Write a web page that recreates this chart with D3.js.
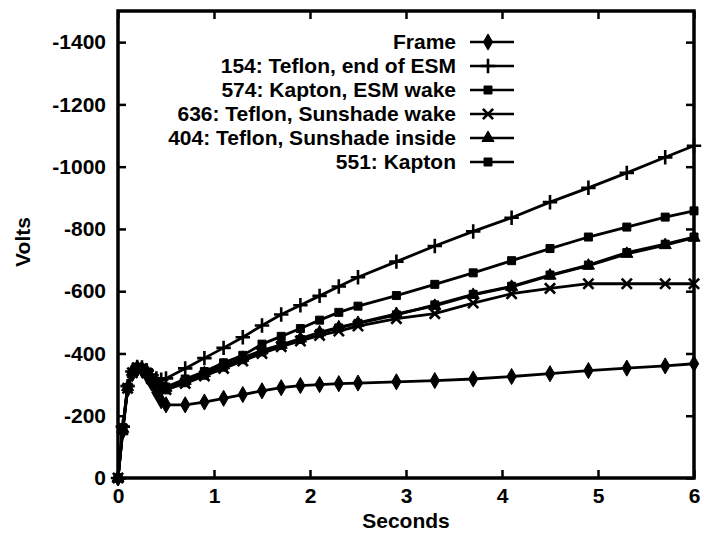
<!DOCTYPE html>
<html>
<head>
<meta charset="utf-8">
<script src="https://cdn.jsdelivr.net/npm/d3@7"></script>
<style>
  html, body { margin: 0; padding: 0; background: #fff; }
  svg { display: block; font-family: "Liberation Sans", Arial, Helvetica, sans-serif; }
</style>
</head>
<body>
<svg id="chart"></svg>
<script>
/* Data Setup */
const seconds = [0, 0.05, 0.1, 0.15, 0.2, 0.25, 0.3, 0.35, 0.4, 0.45, 0.5, 0.7, 0.9, 1.1, 1.3, 1.5, 1.7, 1.9, 2.1, 2.3, 2.5, 2.9, 3.3, 3.7, 4.1, 4.5, 4.9, 5.3, 5.7, 6.0];

const frame = [0, -150, -285, -335, -350, -348, -330, -305, -275, -248, -235, -235, -244, -256, -268, -280, -290, -297, -300, -303, -305, -309, -313, -318, -326, -335, -345, -353, -360, -367];
const teflonEsmEnd = [0, -165, -295, -342, -357, -355, -345, -330, -320, -316, -320, -352, -385, -418, -452, -490, -525, -555, -585, -615, -645, -695, -745, -792, -836, -886, -932, -980, -1030, -1067];
const kaptonEsmWake = [0, -160, -290, -340, -356, -353, -340, -322, -306, -296, -292, -318, -342, -370, -394, -430, -455, -480, -507, -532, -552, -586, -622, -659, -698, -737, -774, -806, -838, -858];
const teflonSunshadeWake = [0, -155, -288, -338, -354, -351, -337, -318, -300, -290, -284, -304, -328, -352, -376, -400, -422, -440, -458, -472, -488, -512, -528, -562, -592, -609, -624, -624, -624, -624];
const teflonSunshadeInside = [0, -158, -292, -341, -356, -352, -339, -320, -303, -293, -290, -312, -337, -362, -386, -410, -428, -448, -468, -484, -498, -527, -553, -588, -614, -650, -682, -720, -748, -772];
const kapton551 = [0, -162, -290, -339, -355, -351, -336, -316, -298, -287, -283, -306, -330, -356, -380, -405, -426, -445, -465, -482, -497, -524, -556, -590, -616, -652, -684, -724, -751, -774];

const seriesNames = ["Frame", "154: Teflon, end of ESM", "574: Kapton, ESM wake", "636: Teflon, Sunshade wake", "404: Teflon, Sunshade inside", "551: Kapton"];
const seriesValues = [frame, teflonEsmEnd, kaptonEsmWake, teflonSunshadeWake, teflonSunshadeInside, kapton551];
const markerKinds = ["diamond", "plus", "square", "cross", "triangle", "square"];

const xTicks = [0, 1, 2, 3, 4, 5, 6];
const yTicks = [0, -200, -400, -600, -800, -1000, -1200, -1400];

/* Chart dimensions */
const W = 704, H = 539;
const plot = { left: 118, right: 694, top: 11, bottom: 478 };

const svg = d3.select("#chart")
    .attr("width", W)
    .attr("height", H);

/* Scales */
const x = d3.scaleLinear().domain([0, 6]).range([plot.left, plot.right]);
const y = d3.scaleLinear().domain([0, -1500]).range([plot.bottom, plot.top]);

/* Marker shapes */
const symbolFor = {
    diamond: d3.symbol().type(d3.symbolDiamond).size(75),
    square: d3.symbol().type(d3.symbolSquare).size(64),
    triangle: d3.symbol().type(d3.symbolTriangle).size(64),
    plus: d3.symbol().type(d3.symbolPlus).size(70),
    cross: d3.symbol().type(d3.symbolX).size(70)
};
function drawMarker(g, kind, cx, cy) {
    const stroked = kind === "plus" || kind === "cross";
    g.append("path")
        .attr("d", symbolFor[kind]())
        .attr("transform", `translate(${cx},${cy})`)
        .attr("fill", stroked ? "none" : "#000")
        .attr("stroke", "#000")
        .attr("stroke-width", stroked ? 2.6 : 1);
}

/* Lines */
const line = d3.line()
    .x(d => x(d[0]))
    .y(d => y(d[1]));

const seriesG = svg.append("g");
seriesValues.forEach((vals, i) => {
    const pts = seconds.map((t, k) => [t, vals[k]]);
    seriesG.append("path")
        .datum(pts)
        .attr("d", line)
        .attr("fill", "none")
        .attr("stroke", "#000")
        .attr("stroke-width", 2.8);
    const mg = seriesG.append("g");
    pts.forEach(p => drawMarker(mg, markerKinds[i], x(p[0]), y(p[1])));
});

/* Axes: ticks pointing inward on all four sides */
const tickLen = 8;
svg.append("g")
    .attr("transform", `translate(0,${plot.bottom})`)
    .call(d3.axisBottom(x).tickValues(xTicks).tickSize(-tickLen).tickPadding(10).tickFormat(d3.format("d")))
    .call(g => g.select(".domain").remove());
svg.append("g")
    .attr("transform", `translate(0,${plot.top})`)
    .call(d3.axisTop(x).tickValues(xTicks).tickSize(-tickLen).tickFormat(""))
    .call(g => g.select(".domain").remove());
svg.append("g")
    .attr("transform", `translate(${plot.left},0)`)
    .call(d3.axisLeft(y).tickValues(yTicks).tickSize(-tickLen).tickPadding(12).tickFormat(d => String(d)))
    .call(g => g.select(".domain").remove());
svg.append("g")
    .attr("transform", `translate(${plot.right},0)`)
    .call(d3.axisRight(y).tickValues(yTicks).tickSize(-tickLen).tickFormat(""))
    .call(g => g.select(".domain").remove());

svg.selectAll(".tick line").attr("stroke", "#000").attr("stroke-width", 2.5);
svg.selectAll(".tick text")
    .attr("fill", "#000")
    .style("font-size", "21px")
    .style("font-weight", "bold");

/* Plot frame */
svg.append("rect")
    .attr("x", plot.left)
    .attr("y", plot.top)
    .attr("width", plot.right - plot.left)
    .attr("height", plot.bottom - plot.top)
    .attr("fill", "none")
    .attr("stroke", "#000")
    .attr("stroke-width", 3.5);

/* Axis titles */
svg.append("text")
    .attr("x", (plot.left + plot.right) / 2)
    .attr("y", 528)
    .attr("text-anchor", "middle")
    .style("font-size", "21px")
    .style("font-weight", "bold")
    .text("Seconds");

svg.append("text")
    .attr("transform", "translate(30,242) rotate(-90)")
    .attr("text-anchor", "middle")
    .style("font-size", "21px")
    .style("font-weight", "bold")
    .text("Volts");

/* Legend */
const legend = svg.append("g");
seriesNames.forEach((name, i) => {
    const ly = 42 + i * 24;
    legend.append("text")
        .attr("x", 456)
        .attr("y", ly)
        .attr("dy", "0.35em")
        .attr("text-anchor", "end")
        .style("font-size", "21px")
        .style("font-weight", "bold")
        .text(name);
    legend.append("line")
        .attr("x1", 470).attr("x2", 514)
        .attr("y1", ly).attr("y2", ly)
        .attr("stroke", "#000")
        .attr("stroke-width", 2.6);
    drawMarker(legend, markerKinds[i], 488, ly);
});
</script>
</body>
</html>
